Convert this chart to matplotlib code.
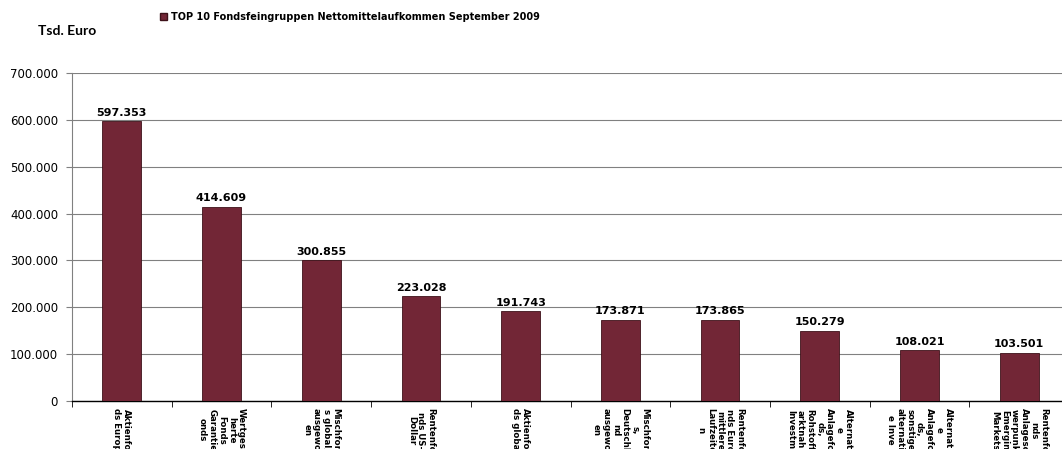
import matplotlib
matplotlib.use("Agg")
import matplotlib.pyplot as plt
from matplotlib.patches import Patch
from matplotlib.ticker import FixedLocator, FuncFormatter

categories = [
    "Aktienfo\nds Europ",
    "Wertgesi\nherte\nFonds\nGarantie\nonds",
    "Mischfon\ns global,\nausgewo\nen",
    "Rentenfo\nnds US-\nDollar",
    "Aktienfo\nds globa",
    "Mischfon\ns,\nDeutschl\nnd\nausgewo\nen",
    "Rentenfo\nnds Euro\nmittlere\nLaufzeite\nn",
    "Alternat\ne\nAnlagefo\nds,\nRohstoff\narktnah\nInvestm",
    "Alternati\ne\nAnlagefo\nds,\nsonstige\nalternati\ne Inve",
    "Rentenfo\nnds\nAnlagesc\nwerpunk\nEmergin\nMarkets",
]
values = [597353, 414609, 300855, 223028, 191743, 173871, 173865, 150279, 108021, 103501]
series_name = "TOP 10 Fondsfeingruppen Nettomittelaufkommen September 2009"
y_ticks = [0, 100000, 200000, 300000, 400000, 500000, 600000, 700000]

def de_fmt(v):
    return f"{int(round(v)):,}".replace(",", ".")

W, H = 1062, 449
fig = plt.figure(figsize=(W / 100, H / 100), dpi=100)
left = 72 / W
right = 1069 / W
bottom = 1 - 401 / H
top = 1 - 73 / H
ax = fig.add_axes([left, bottom, right - left, top - bottom])

bar_color = "#722636"
x = list(range(len(values)))
bars = ax.bar(x, values, width=0.39, color=bar_color, edgecolor="#3d1119", linewidth=0.6, zorder=3)

ax.set_xlim(-0.5, len(values) - 0.5)
ax.set_ylim(0, 700000)
ax.yaxis.set_major_locator(FixedLocator(y_ticks))
ax.yaxis.set_major_formatter(FuncFormatter(lambda v, p: de_fmt(v)))
ax.grid(axis="y", color="#808080", linewidth=0.8, zorder=0)
ax.tick_params(axis="y", direction="out", length=4, color="#808080", labelsize=8.5, pad=6, labelcolor="black")

ax.set_xticks(x)
ax.set_xticklabels(categories, rotation=-90, ha="center", va="top", multialignment="center",
                   fontsize=6.2, fontweight="bold", linespacing=1.1,
                   family=["Liberation Sans Narrow", "DejaVu Sans"])
ax.tick_params(axis="x", which="major", length=0, pad=5)
ax.set_xticks([i - 0.5 for i in range(len(values) + 1)], minor=True)
ax.tick_params(axis="x", which="minor", direction="out", length=4, color="black")

for s in ["top", "right"]:
    ax.spines[s].set_visible(False)
ax.spines["left"].set_color("#808080")
ax.spines["bottom"].set_color("black")
ax.spines["bottom"].set_linewidth(1.0)

for b, v in zip(bars, values):
    ax.text(b.get_x() + b.get_width() / 2, v + 7000, de_fmt(v), ha="center", va="bottom",
            fontsize=8, fontweight="bold", zorder=4)

fig.text(38 / W, 1 - 31 / H, "Tsd. Euro", fontsize=10, fontweight="bold", va="center", ha="left",
         family=["Lato", "DejaVu Sans"])

leg = fig.legend(handles=[Patch(facecolor=bar_color, edgecolor="#3d1119", label=series_name)],
                 loc="center left", bbox_to_anchor=(160 / W, 1 - 17 / H), frameon=False,
                 prop={"size": 7, "weight": "bold"}, handlelength=0.7, handleheight=0.7,
                 handletextpad=0.4, borderpad=0, borderaxespad=0)

fig.savefig("out.png", dpi=100)
